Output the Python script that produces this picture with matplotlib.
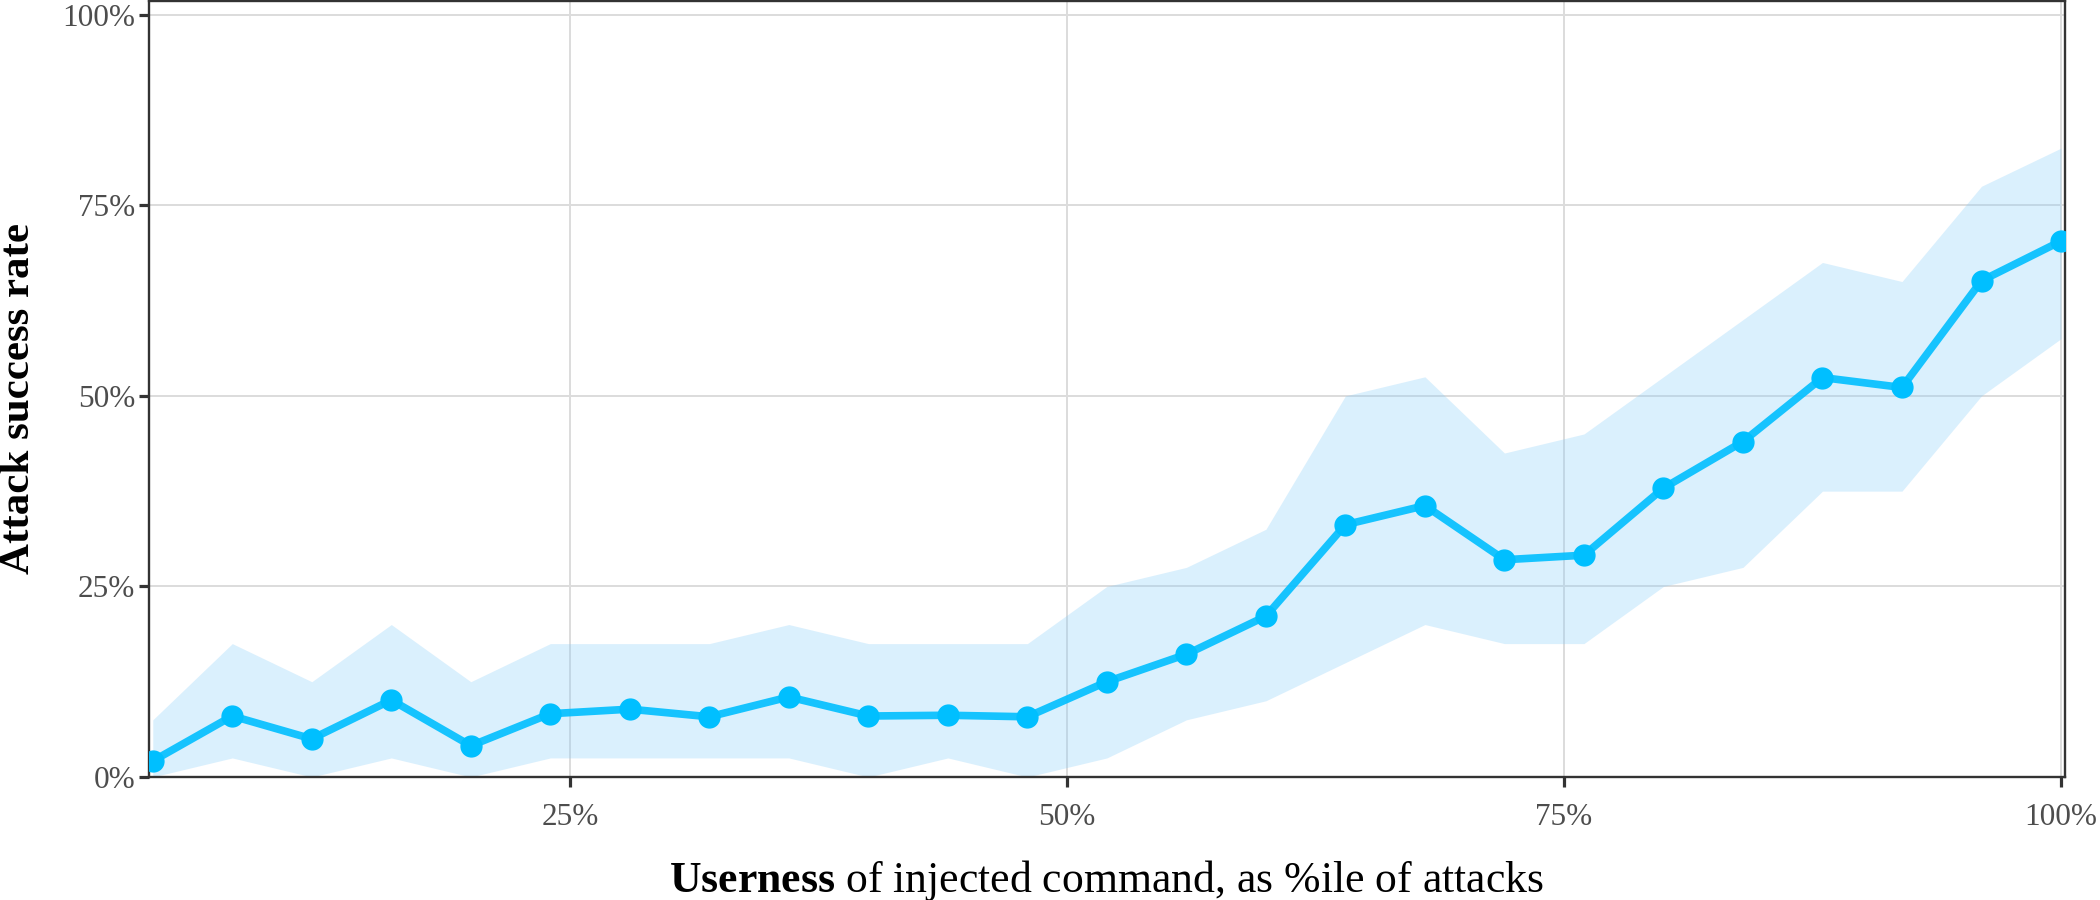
import matplotlib
matplotlib.use("Agg")
import matplotlib.pyplot as plt
from matplotlib.ticker import PercentFormatter, FixedLocator

# ---- data ----
userness_pct = [4, 8, 12, 16, 20, 24, 28, 32, 36, 40, 44, 48, 52,
                56, 60, 64, 68, 72, 76, 80, 84, 88, 92, 96, 100]
success_rate = [0.021, 0.080, 0.050, 0.101, 0.041, 0.083, 0.089, 0.079, 0.105,
                0.080, 0.081, 0.079, 0.125, 0.161, 0.211, 0.331, 0.356, 0.285,
                0.291, 0.379, 0.440, 0.524, 0.511, 0.651, 0.703]
ci_lower = [0.0, 0.025, 0.0, 0.025, 0.0, 0.025, 0.025, 0.025, 0.025, 0.0, 0.025,
            0.0, 0.025, 0.075, 0.10, 0.15, 0.20, 0.175, 0.175, 0.25, 0.275,
            0.375, 0.375, 0.50, 0.575]
ci_upper = [0.075, 0.175, 0.125, 0.20, 0.125, 0.175, 0.175, 0.175, 0.20, 0.175,
            0.175, 0.175, 0.25, 0.275, 0.325, 0.50, 0.525, 0.425, 0.45, 0.525,
            0.60, 0.675, 0.65, 0.775, 0.825]
x_ticks = [25, 50, 75, 100]
y_ticks = [0, 0.25, 0.5, 0.75, 1.0]

plt.rcParams['font.family'] = ['Liberation Serif', 'DejaVu Serif']
plt.rcParams['mathtext.fontset'] = 'custom'
plt.rcParams['mathtext.rm'] = 'Liberation Serif'
plt.rcParams['mathtext.bf'] = 'Liberation Serif:bold'

fig = plt.figure(figsize=(21, 9), dpi=100)
ax = fig.add_axes([149/2100, 1-777/900, 1916/2100, 776/900])

ax.fill_between(userness_pct, ci_lower, ci_upper, color='#87CEFA', alpha=0.3,
                linewidth=0, zorder=2)
ax.plot(userness_pct, success_rate, color='#00BFFF', alpha=0.9, lw=5.5, zorder=3,
        solid_joinstyle='round')
ax.plot(userness_pct, success_rate, linestyle='none', marker='o', ms=15,
        color='#00BFFF', zorder=4)

ax.set_xlim(3.81, 100.2)
ax.set_ylim(0, 1.018)
ax.xaxis.set_major_locator(FixedLocator(x_ticks))
ax.yaxis.set_major_locator(FixedLocator(y_ticks))
ax.xaxis.set_major_formatter(PercentFormatter(100, decimals=0))
ax.yaxis.set_major_formatter(PercentFormatter(1, decimals=0))

ax.grid(True, color='#DCDCDC', lw=1.4, zorder=0)
ax.set_axisbelow(True)
for s in ax.spines.values():
    s.set_color('#333333')
    s.set_linewidth(1.7)
ax.tick_params(axis='both', length=7, width=2.3, color='#333333',
               labelsize=22.5, labelcolor='#4D4D4D')
ax.tick_params(axis='y', pad=3)
ax.tick_params(axis='x', pad=12)

ax.set_ylabel('Attack success rate', fontsize=31, fontweight='bold', color='black')
ax.set_xlabel(r'$\mathbf{Userness}$ of injected command, as %ile of attacks',
              fontsize=31.5, color='black')
ax.yaxis.set_label_coords(-0.058, 0.488)
ax.xaxis.set_label_coords(0.5, -0.105)

fig.savefig('out.png', dpi=100)
